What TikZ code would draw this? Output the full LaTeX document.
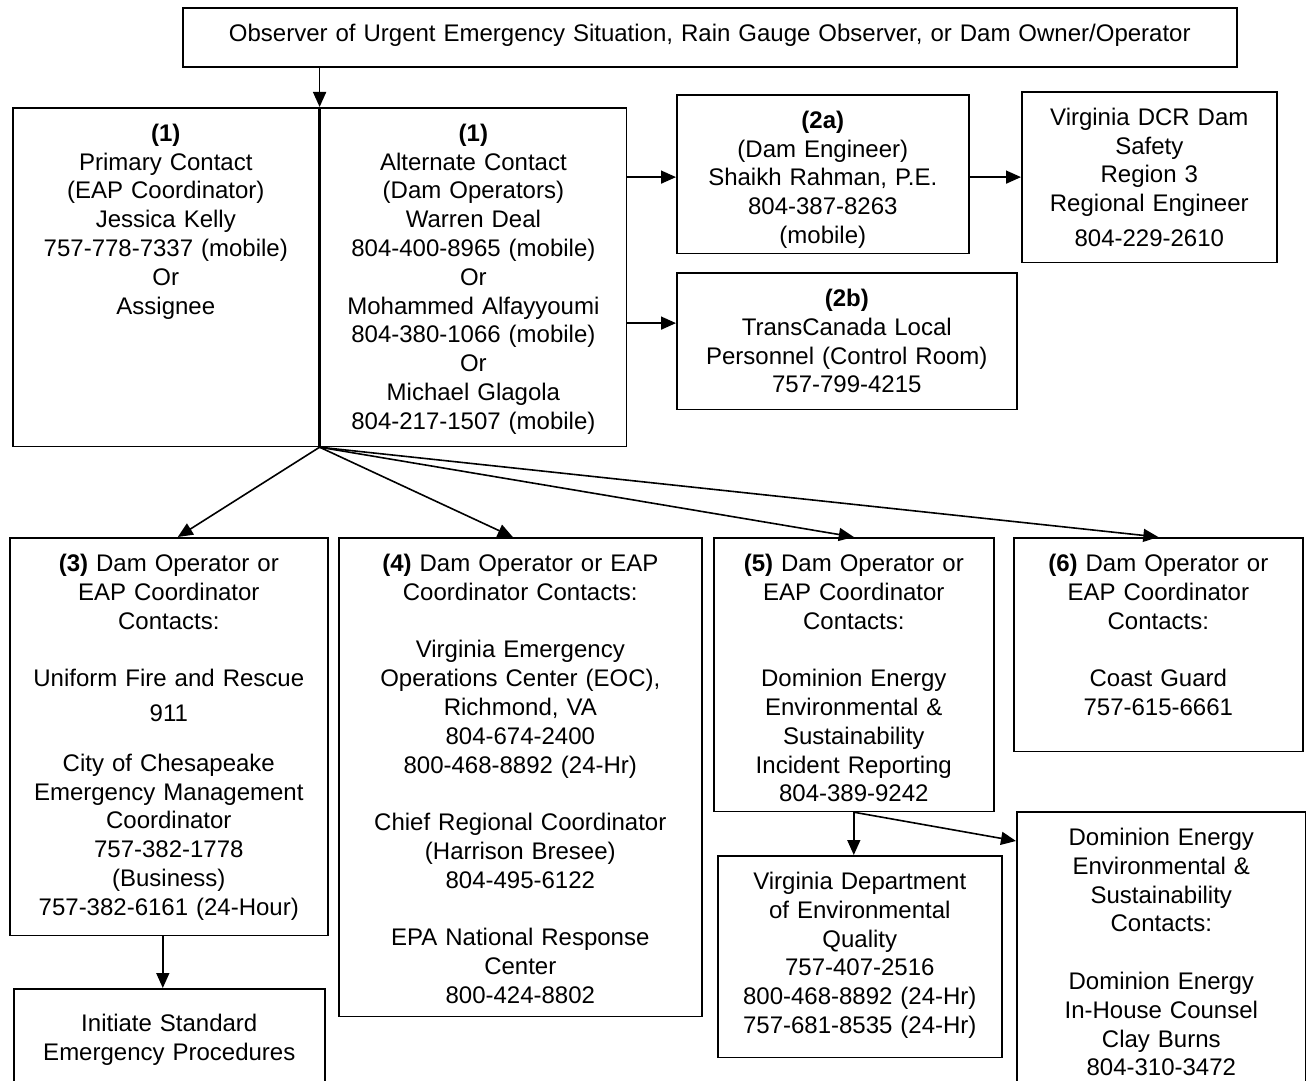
\documentclass[tikz,border=0pt]{standalone}
\usepackage{fontspec}
\setmainfont{Liberation Sans}
\usetikzlibrary{arrows.meta, calc}
\newcommand{\chartfont}{\fontsize{12}{14.4}\selectfont}

\begin{document}
\begin{tikzpicture}[
    x=0.5pt, y=-0.5pt,
    contact/.style={rectangle, draw=black, line width=0.8pt, fill=white, font=\chartfont, align=center, inner xsep=2pt, inner ysep=8pt, text height=8.8pt, anchor=north west},
    arrow/.style={-{Triangle[length=7.5pt, width=6.5pt]}, line width=0.8pt}
]
    \useasboundingbox (0,0) rectangle (1306,1081);
    \clip (0,0) rectangle (1306,1081);

    % Nodes
    \node[contact, text width=523pt, text depth=4.7pt] (top) at (182,7) {Observer of Urgent Emergency Situation, Rain Gauge Observer, or Dam Owner/Operator};

    \node[contact, text width=149pt, text depth=144.5pt] (prim) at (12,107) {\textbf{(1)}\\Primary Contact\\(EAP Coordinator)\\Jessica Kelly\\757-778-7337 (mobile)\\Or\\Assignee};
    \node[contact, text width=149pt, text depth=144.5pt] (alt) at (prim.north east) {\textbf{(1)}\\Alternate Contact\\(Dam Operators)\\Warren Deal\\804-400-8965 (mobile)\\Or\\Mohammed Alfayyoumi\\804-380-1066 (mobile)\\Or\\Michael Glagola\\804-217-1507 (mobile)};

    \node[contact, text width=142pt, text depth=54.5pt] (c2a) at (676,94) {\textbf{(2a)}\\(Dam Engineer)\\Shaikh Rahman, P.E.\\804-387-8263\\(mobile)};
    \node[contact, text width=123.5pt, text depth=60.5pt] (dcr) at (1021,91) {Virginia DCR Dam\\Safety\\Region 3\\Regional Engineer\\[3pt]804-229-2610};
    \node[contact, text width=166pt, text depth=43.5pt] (c2b) at (676,272) {\textbf{(2b)}\\TransCanada Local\\Personnel (Control Room)\\757-799-4215};

    \node[contact, text width=155pt, text depth=174pt] (c3) at (9,537) {\textbf{(3)} Dam Operator or\\EAP Coordinator\\Contacts:\\[14.4pt]Uniform Fire and Rescue\\[3pt]911\\[10.5pt]City of Chesapeake\\Emergency Management\\Coordinator\\757-382-1778\\(Business)\\757-382-6161 (24-Hour)};
    \node[contact, text width=177.5pt, text depth=214.5pt] (c4) at (338,537) {\textbf{(4)} Dam Operator or EAP\\Coordinator Contacts:\\[14.4pt]Virginia Emergency\\Operations Center (EOC),\\Richmond, VA\\804-674-2400\\800-468-8892 (24-Hr)\\[14.4pt]Chief Regional Coordinator\\(Harrison Bresee)\\804-495-6122\\[14.4pt]EPA National Response\\Center\\800-424-8802};
    \node[contact, text width=136pt, text depth=112pt] (c5) at (713,537) {\textbf{(5)} Dam Operator or\\EAP Coordinator\\Contacts:\\[14.4pt]Dominion Energy\\Environmental \&\\Sustainability\\Incident Reporting\\804-389-9242};
    \node[contact, text width=140.5pt, text depth=82pt] (c6) at (1013,537) {\textbf{(6)} Dam Operator or\\EAP Coordinator\\Contacts:\\[14.4pt]Coast Guard\\757-615-6661};

    \node[contact, text width=138pt, text depth=76pt] (deq) at (717,855) {Virginia Department\\of Environmental\\Quality\\757-407-2516\\800-468-8892 (24-Hr)\\757-681-8535 (24-Hr)};
    \node[contact, text width=140.5pt, text depth=120pt] (dom) at (1016,811) {Dominion Energy\\Environmental \&\\Sustainability\\Contacts:\\[14.4pt]Dominion Energy\\In-House Counsel\\Clay Burns\\804-310-3472};
    \node[contact, text width=151.5pt, text height=13.3pt, text depth=30pt] (init) at (13,988) {Initiate Standard\\Emergency Procedures};

    \coordinate (to2b) at ($(c2b.west)+(0,9pt)$);
    \coordinate (c3out) at ([xshift=-3pt]c3.south);

    % Links
    \draw[arrow] (top.south -| alt.north west) -- (alt.north west);
    \draw[arrow] (alt.east |- dcr.west) -- (c2a.west |- dcr.west);
    \draw[arrow] (c2a.east |- dcr.west) -- (dcr.west);
    \draw[arrow] (alt.east |- to2b) -- (to2b);

    \draw[arrow] (alt.south west) -- ([xshift=4.5pt]c3.north);
    \draw[arrow] (alt.south west) -- ([xshift=-3.75pt]c4.north);
    \draw[arrow] (alt.south west) -- (c5.north);
    \draw[arrow] (alt.south west) -- (c6.north);

    \draw[arrow] (c3out) -- (c3out |- init.north);
    \draw[arrow] (c5.south) -- (c5.south |- deq.north);
    \draw[arrow] (c5.south) -- ([yshift=-15pt]dom.north west);
\end{tikzpicture}
\end{document}
